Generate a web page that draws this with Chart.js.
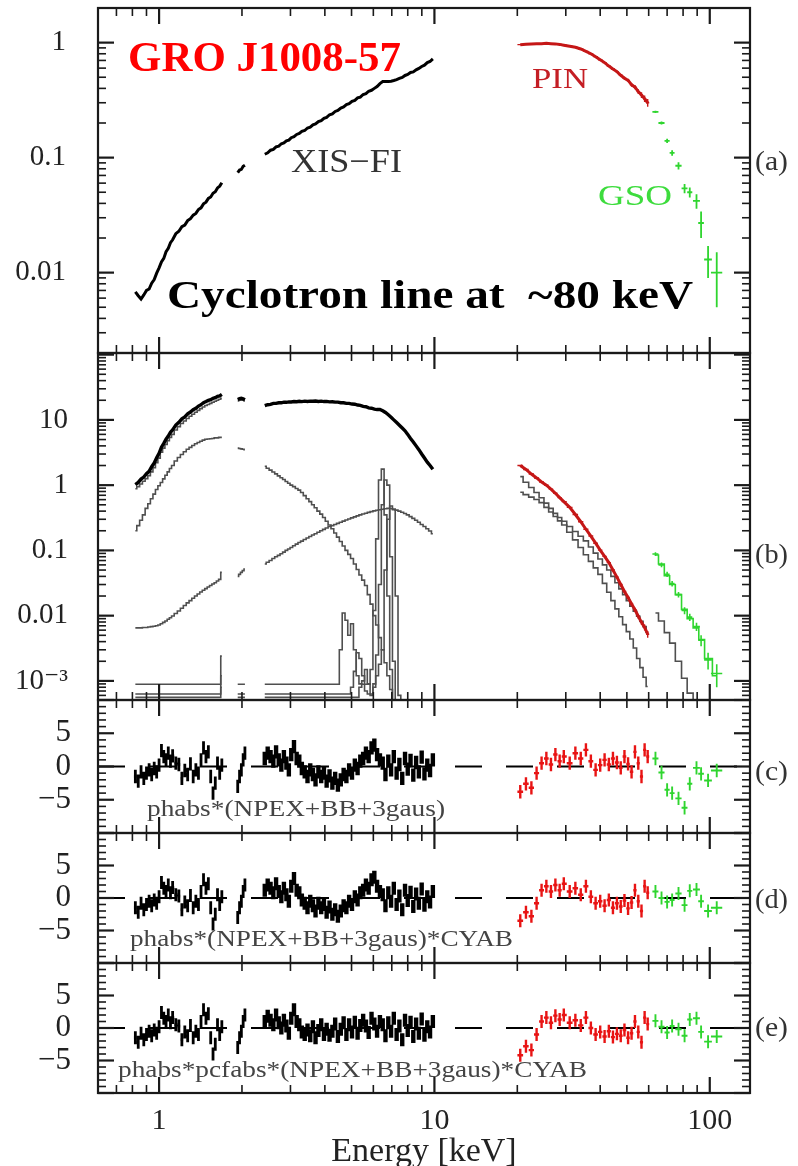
<!DOCTYPE html>
<html lang="en">
<head>
<meta charset="UTF-8" />
<title>GRO J1008-57 broadband spectrum</title>
<script src="https://cdn.jsdelivr.net/npm/chart.js"></script>
<style>
  html, body { margin: 0; padding: 0; background: #fff; }
  #wrap { position: relative; width: 798px; height: 1166px; }
  #wrap canvas { position: absolute; left: 0; top: 0; }
</style>
</head>
<body>
<div id="wrap">
  <canvas id="pa" width="798" height="1166"></canvas>
  <canvas id="pb" width="798" height="1166"></canvas>
  <canvas id="pc" width="798" height="1166"></canvas>
  <canvas id="pd" width="798" height="1166"></canvas>
  <canvas id="pe" width="798" height="1166"></canvas>
</div>
<script>
// ---- data (energies in keV) ----
// XIS grid; 1.80 and 2.25 are gap markers (null values)
const xisE = [0.82,0.84,0.86,0.88,0.90,0.92,0.94,0.96,0.98,1.00,1.02,1.04,1.06,1.08,1.10,1.12,
  1.15,1.18,1.21,1.24,1.27,1.30,1.33,1.36,1.39,1.42,1.45,1.48,1.51,1.54,1.57,1.60,1.63,1.66,1.69,
  1.80,
  1.93,1.96,1.99,2.02,2.05,
  2.25,
  2.42,2.48,2.54,2.60,2.66,2.72,2.78,2.84,2.90,2.96,
  3.02,3.09,3.16,3.23,3.30,3.38,3.46,3.54,3.62,3.70,
  3.79,3.88,3.97,4.06,4.16,4.26,4.36,4.46,4.57,4.68,
  4.79,4.90,5.02,5.14,5.26,5.38,5.51,5.64,5.77,5.91,
  6.05,6.19,6.34,6.49,6.64,6.80,6.96,7.12,7.29,7.46,
  7.64,7.82,8.00,8.19,8.38,8.58,8.78,8.99,9.20,9.42,
  9.64,9.87];

// panel (a) normalised XIS-FI
const xisA = [0.0068,0.0063,0.0059,0.0064,0.0070,0.0072,0.0081,0.0087,0.0099,0.0110,0.0124,0.0133,0.0152,0.0163,0.0182,0.0193,
  0.0218,0.0229,0.0251,0.0259,0.0283,0.0295,0.0316,0.0327,0.0354,0.0366,0.0396,0.0410,0.0442,0.0455,0.0490,0.0505,0.0545,0.0565,0.0605,
  null,
  0.074,0.078,0.079,0.084,0.086,
  null,
  0.107,0.110,0.116,0.118,0.124,0.126,0.132,0.134,0.140,0.142,
  0.149,0.152,0.159,0.162,0.169,0.172,0.181,0.184,0.193,0.196,
  0.206,0.210,0.220,0.224,0.236,0.240,0.252,0.257,0.270,0.276,
  0.289,0.294,0.309,0.315,0.331,0.336,0.354,0.360,0.378,0.385,
  0.400,0.415,0.440,0.458,0.458,0.460,0.462,0.468,0.476,0.488,
  0.498,0.518,0.528,0.550,0.556,0.580,0.596,0.620,0.636,0.670,
  0.685,0.722];

// panel (b) XIS-FI data and model components
const xisB = [1.02,1.10,1.24,1.33,1.50,1.63,1.92,2.18,2.63,3.08,3.82,4.36,5.05,5.65,6.45,7.05,
  8.35,9.2,10.4,11.1,12.4,13.2,14.3,15.1,16.3,17.1,18.4,19.1,19.9,20.4,21.4,21.9,22.9,23.4,24.6,
  null,
  20.5,21.1,21.4,21.1,20.4,
  null,
  16.5,17.1,17.3,17.9,17.9,18.3,18.3,18.7,18.6,18.9,
  18.8,19.1,19.0,19.3,19.1,19.4,19.2,19.4,19.3,19.5,
  19.2,19.4,19.1,19.2,18.9,19.0,18.7,18.7,18.3,18.3,
  17.9,17.9,17.5,17.4,16.9,16.7,16.1,15.9,15.3,15.1,
  14.6,14.4,14.5,13.8,13.0,12.0,11.0,10.0,9.1,8.3,
  7.5,6.8,6.0,5.2,4.6,4.0,3.5,3.0,2.6,2.25,
  2.0,1.75];
const modB = [0.88,0.95,1.04,1.15,1.26,1.40,1.60,1.85,2.2,2.6,3.2,3.7,4.2,4.8,5.4,6.0,
  7.0,7.9,8.8,9.6,10.5,11.4,12.2,13.1,14.0,14.9,15.8,16.6,17.2,17.9,18.6,19.3,20.0,20.7,21.5,
  null,
  19.5,20.0,20.4,20.0,19.5];
const npexB = [0.20,0.24,0.29,0.35,0.44,0.52,0.62,0.73,0.86,0.98,1.10,1.25,1.42,1.60,1.80,2.00,
  2.35,2.65,2.95,3.25,3.55,3.80,4.05,4.30,4.50,4.70,4.90,5.05,5.10,5.15,5.20,5.30,5.30,5.40,5.40,
  null,
  3.70,3.65,3.60,3.55,3.50,
  null,
  1.95,1.82,1.70,1.59,1.49,1.39,1.30,1.22,1.14,1.07,
  1.00,0.95,0.89,0.84,0.77,0.69,0.62,0.56,0.50,0.45,
  0.40,0.36,0.32,0.28,0.245,0.215,0.185,0.16,0.137,0.117,
  0.10,0.087,0.075,0.062,0.051,0.042,0.035,0.029,0.021,0.015,
  0.010,0.0072,0.0046,0.0030,0.0019,0.0012,0.00074,0.00045,0.00028];
const bbB = [0.0065,0.0065,0.0065,0.0066,0.0066,0.0067,0.0068,0.0069,0.0070,0.0072,0.0075,0.0079,0.0083,0.0088,0.0093,0.0099,
  0.0108,0.0118,0.013,0.0143,0.0157,0.017,0.0185,0.020,0.0215,0.023,0.0245,0.026,0.0275,0.029,0.0305,0.032,0.034,0.036,0.046,
  null,
  0.040,0.043,0.046,0.049,0.052,
  null,
  0.062,0.066,0.070,0.075,0.080,0.084,0.089,0.094,0.100,0.105,
  0.111,0.118,0.125,0.132,0.139,0.147,0.155,0.163,0.172,0.180,
  0.190,0.200,0.210,0.221,0.232,0.240,0.250,0.260,0.270,0.281,
  0.292,0.303,0.315,0.327,0.338,0.350,0.362,0.372,0.383,0.393,
  0.403,0.412,0.420,0.428,0.434,0.440,0.438,0.430,0.415,0.400,
  0.385,0.368,0.350,0.330,0.310,0.290,0.270,0.250,0.233,0.215,
  0.198,0.180];

// three gaussian (iron line) components, coarser grid
const gausE = [0.82,1.66,1.69,1.80,1.93,2.05,2.25,2.42,4.46,4.57,4.68,4.79,4.90,5.02,5.14,5.26,
  5.38,5.51,5.64,5.77,5.91,6.05,6.19,6.34,6.49,6.64,6.80,6.96,7.12,7.29,7.46,7.64];
const g1B = [0.00089,0.00089,0.0024,null,0.00089,0.00089,null,0.00089,0.00089,0.003,0.011,0.0085,0.005,0.0075,0.003,0.0012,
  0.0009,0.00089,0.00089,0.00089,0.0015,0.012,0.15,1.2,1.76,0.35,0.02,0.0015,0.0003];
const g2B = [0.00063,0.00063,0.0012,null,0.00063,0.00063,null,0.00063,0.00063,0.00063,0.00063,0.00063,0.00063,0.0008,0.0014,0.0027,
  0.0022,0.0012,0.0007,0.00063,0.00063,0.0009,0.0025,0.03,0.5,1.2,1.0,0.08,0.002,0.0003];
const g3B = [0.00056,0.00056,0.0008,null,0.00056,0.00056,null,0.00056,0.00056,0.00056,0.00056,0.00056,0.00056,0.00056,0.00056,0.00056,
  0.0008,0.001,0.0015,0.0009,0.0006,0.0008,0.0012,0.0018,0.003,0.05,0.3,0.48,0.42,0.02,0.0006,0.0003];

// HXD-PIN
const pinE = [20.5,21.5,22.5,23.5,24.5,25.5,26.5,27.5,28.5,29.5,31,32.5,34,35.5,37,38.5,40,41.5,43,44.5,
  46,47.5,49,50.5,52,53.5,55,56.5,58,59.5];
const pinA = [0.96,0.97,0.975,0.98,0.98,0.985,0.98,0.975,0.965,0.95,0.93,0.91,0.88,0.84,0.80,0.755,0.71,0.67,0.625,0.59,
  0.56,0.52,0.49,0.47,0.43,0.41,0.375,0.35,0.325,0.30];
const pinAErr = [0.004,0.004,0.004,0.004,0.004,0.005,0.005,0.005,0.005,0.006,0.006,0.006,0.007,0.007,0.008,0.008,0.009,0.01,0.01,0.011,
  0.012,0.013,0.014,0.015,0.016,0.017,0.018,0.02,0.021,0.023];
const pinB = [2.0,1.74,1.48,1.29,1.12,1.0,0.87,0.75,0.645,0.56,0.457,0.355,0.275,0.211,0.166,0.129,0.101,0.081,0.065,0.050,
  0.039,0.030,0.0234,0.019,0.0151,0.0123,0.0098,0.0079,0.0066,0.0052];
const pinBErr = [0.05,0.04,0.035,0.03,0.03,0.025,0.02,0.02,0.018,0.016,0.013,0.011,0.009,0.007,0.006,0.005,0.004,0.0035,0.003,0.0025,
  0.002,0.0017,0.0014,0.0012,0.001,0.0009,0.0008,0.0007,0.0007,0.0006];
const pinUB = [1.35,1.11,0.92,0.77,0.64,0.53,0.44,0.37,0.32,0.28,0.233,0.195,0.165,0.140,0.113,0.091,0.074,0.060,0.050,0.040,
  0.032,0.0257,0.0209,0.0170,0.0140,0.0117,0.0098,0.0082,0.0068,0.0056];
const pinLB = [0.78,0.715,0.655,0.603,0.54,0.456,0.388,0.331,0.284,0.245,0.19,0.145,0.111,0.086,0.068,0.054,0.043,0.0312,0.0229,0.017,
  0.0127,0.0096,0.0073,0.0057,0.0044,0.0032,0.0022,0.0016,0.00114,0.00082];

// HXD-GSO
const gsoE = [63.5,66.8,70,73,77,81,84.6,89.5,93,98.6,106];
const gsoXErr = [1.6,1.7,1.5,1.5,2.0,2.0,1.8,2.6,2.2,3.2,5.0];
const gsoA = [0.25,0.20,0.14,0.11,0.085,0.054,0.05,0.042,0.027,0.013,0.010];
const gsoAErr = [0.006,0.006,0.006,0.006,0.006,0.005,0.005,0.006,0.007,0.004,0.005];
const gsoB = [0.088,0.060,0.043,0.031,0.021,0.012,0.0095,0.0068,0.0042,0.0021,0.0013];
const gsoBErr = [0.006,0.005,0.004,0.003,0.002,0.0015,0.0012,0.001,0.0008,0.0006,0.0005];
const gsoModB = [0.085,0.062,0.041,0.030,0.021,0.0125,0.009,0.0065,0.0043,0.0022,0.0012];
const gsoCompB = [0.011,0.0083,0.0055,0.0038,0.0020,0.0011,0.00065,0.0004];

// residuals (sigma)
const xisResCD = [-1.5,-2.2,-0.8,-1.8,-1.0,-0.5,-1.2,-0.3,-0.8,0.2,2.4,1.5,1.0,2.0,0.8,1.6,
  0.5,0.3,-1.8,-0.6,-1.2,0.4,-1.5,-0.5,-1.0,1.0,2.8,1.5,2.2,-1.5,-4.0,-2.5,0.5,-1.0,0.2,
  null,
  -3.0,-1.5,-0.5,1.0,2.0,
  null,
  1.2,2.0,1.5,0.8,2.2,1.0,0.2,1.5,0.5,-0.5,
  1.8,3.0,1.2,0.8,-0.3,-0.8,-1.5,-0.5,-1.2,-2.0,
  -0.8,-1.5,-1.0,-2.2,-1.4,-2.5,-1.8,-2.8,-2.0,-1.2,
  -1.5,-0.5,-1.0,0.2,-0.3,0.8,1.2,2.0,1.5,2.8,
  3.2,1.8,1.0,0.5,-1.2,0.8,-0.5,1.5,-1.0,0.3,
  -1.8,1.2,-0.4,0.9,-1.3,0.6,-0.8,1.4,-1.1,0.2,
  -0.6,1.0];
const xisResE = [-1.5,-2.2,-0.8,-1.8,-1.0,-0.5,-1.2,-0.3,-0.8,0.2,2.4,1.5,1.0,2.0,0.8,1.6,
  0.5,0.3,-1.8,-0.6,-1.2,0.4,-1.5,-0.5,-1.0,1.0,2.8,1.5,2.2,-1.5,-4.0,-2.5,0.5,-1.0,0.2,
  null,
  -3.0,-1.5,-0.5,1.0,2.0,
  null,
  1.0,1.8,1.2,0.5,2.0,0.8,0.0,1.2,0.3,-0.8,
  1.5,2.8,1.0,0.5,-0.6,-1.0,-0.3,-1.2,0.2,-1.5,
  -0.4,0.5,-1.0,-0.2,-1.1,-0.5,0.6,-1.3,-0.2,0.8,
  -1.0,0.5,-0.6,0.9,-0.8,0.4,1.2,0.3,-0.7,1.5,
  0.6,-0.5,1.0,0.5,-1.2,0.8,-0.5,1.5,-1.0,0.3,
  -1.8,1.2,-0.4,0.9,-1.3,0.6,-0.8,1.4,-1.1,0.2,
  -0.6,1.0];
const pinResC = [-3.8,-2.6,-3.2,-1.0,0.5,1.2,0.3,1.8,0.8,1.5,0.5,2.0,1.2,2.5,0.8,-0.5,0.2,1.0,0.3,1.2,
  0.6,-0.2,1.5,0.4,-0.8,2.2,0.5,-1.5,2.5,1.5];
const pinResD = [-3.5,-2.2,-2.8,-0.8,1.2,1.8,1.0,2.0,1.2,2.2,1.0,1.5,0.5,1.8,0.2,-0.8,-0.5,-1.2,-0.3,-1.5,
  -0.8,-1.3,-0.4,-1.6,-0.7,1.2,-0.5,-2.0,1.8,0.8];
const pinResE = [-4.2,-2.8,-3.4,-1.0,1.0,1.6,0.8,1.9,1.3,2.0,0.8,1.2,0.4,1.6,0.0,-1.0,-0.6,-1.3,-0.5,-1.4,
  -0.9,-1.2,-0.3,-1.5,-0.8,1.0,-0.6,-2.2,1.6,0.6];
const gsoResC = [1.2,-0.9,-3.5,-4.0,-4.8,-6.2,-2.6,-0.2,-1.1,-2.1,-0.6];
const gsoResD = [1.0,0.0,-0.6,-0.3,0.7,-1.1,1.1,1.3,-0.5,-2.0,-1.5];
const gsoResE = [1.1,0.2,-0.7,0.3,-0.2,-1.2,1.3,1.5,-0.6,-2.1,-1.3];
const residSigma = 1;
const zeroE = [0.6, 140];
const zeroV = [0, 0];

// tick labels
const xTickVals = [1, 10, 100];
const xTickLabels = ['1', '10', '100'];
const yTickValsA = [0.01, 0.1, 1];
const yTickLabelsA = ['0.01', '0.1', '1'];
const yTickValsB = [0.001, 0.01, 0.1, 1, 10];
const yTickLabelsB = ['10\u207B\u00B3', '0.01', '0.1', '1', '10'];
const yTickValsR = [-5, 0, 5];
const yTickLabelsR = ['\u22125', '0', '5'];

// ---- drawing ----
const SERIF = '"Liberation Serif", "DejaVu Serif", serif';
Chart.defaults.font.family = SERIF;
Chart.defaults.color = '#222';

const BLACK = '#000000';
const GRAY = '#4f4f4f';
const RED = '#e81414';
const RED_D = '#c51717';
const GREEN = '#2fd52f';
const XIS_SPLIT = 42; // first index of the 2.4-10 keV XIS segment

function pts(xs, ys) { return ys.map((y, i) => ({x: xs[i], y: y})); }

function fitText(ctx, t) {
  ctx.save();
  ctx.font = t.font;
  ctx.fillStyle = t.color;
  ctx.textAlign = 'left';
  ctx.textBaseline = 'alphabetic';
  const w = ctx.measureText(t.text).width;
  ctx.translate(t.x, t.y);
  ctx.scale(t.w / w, 1);
  ctx.fillText(t.text, 0, 0);
  ctx.restore();
}

// cross-shaped error bars for datasets that carry errY
function drawErrors(chart) {
  const {ctx, chartArea: a, scales: {x, y}} = chart;
  ctx.save();
  ctx.beginPath();
  ctx.rect(a.left, a.top, a.right - a.left, a.bottom - a.top);
  ctx.clip();
  chart.data.datasets.forEach(ds => {
    if (ds.errY === undefined) return;
    const d = ds.data;
    ctx.strokeStyle = ds.borderColor;
    ctx.lineWidth = ds.errWidth || 1.5;
    ctx.beginPath();
    d.forEach((p, i) => {
      if (p.y === null) return;
      const ey = Array.isArray(ds.errY) ? ds.errY[i] : ds.errY;
      const px = x.getPixelForValue(p.x);
      const py = y.getPixelForValue(p.y);
      let xl, xr;
      if (ds.errX) {
        xl = x.getPixelForValue(p.x - ds.errX[i]);
        xr = x.getPixelForValue(p.x + ds.errX[i]);
      } else {
        const pv = d[i - 1], nx = d[i + 1];
        const pp = pv && pv.y !== null ? x.getPixelForValue(pv.x) : null;
        const np = nx && nx.y !== null ? x.getPixelForValue(nx.x) : null;
        const hl = pp !== null ? (px - pp) / 2 : (np !== null ? (np - px) / 2 : 2);
        const hr = np !== null ? (np - px) / 2 : hl;
        xl = px - hl; xr = px + hr;
      }
      let lo = p.y - ey;
      if (y.type === 'logarithmic' && lo <= 0) lo = y.min;
      ctx.moveTo(xl, py); ctx.lineTo(xr, py);
      ctx.moveTo(px, y.getPixelForValue(lo)); ctx.lineTo(px, y.getPixelForValue(p.y + ey));
    });
    ctx.stroke();
  });
  ctx.restore();
}

// frame with inward ticks on all four sides
function drawFrame(chart) {
  const {ctx, chartArea: a, scales: {x, y}} = chart;
  ctx.save();
  ctx.strokeStyle = '#1a1a1a';
  const tick = (x1, y1, x2, y2, w) => {
    ctx.lineWidth = w; ctx.beginPath(); ctx.moveTo(x1, y1); ctx.lineTo(x2, y2); ctx.stroke();
  };
  for (let d = -1; d <= 2; d++) {
    for (let k = 1; k <= 9; k++) {
      const v = k * Math.pow(10, d);
      if (v < x.min || v > x.max) continue;
      const px = x.getPixelForValue(v);
      const len = k === 1 ? 16 : 8, w = k === 1 ? 2.2 : 1.6;
      tick(px, a.top, px, a.top + len, w);
      tick(px, a.bottom, px, a.bottom - len, w);
    }
  }
  const yt = [];
  if (y.type === 'logarithmic') {
    for (let d = Math.floor(Math.log10(y.min)); d <= Math.ceil(Math.log10(y.max)); d++) {
      for (let k = 1; k <= 9; k++) {
        const v = k * Math.pow(10, d);
        if (v >= y.min && v <= y.max) yt.push([v, k === 1]);
      }
    }
  } else {
    for (let v = Math.ceil(y.min); v <= y.max; v++) yt.push([v, v % 5 === 0]);
  }
  yt.forEach(([v, major]) => {
    const py = y.getPixelForValue(v);
    const len = major ? 16 : 8, w = major ? 2.2 : 1.6;
    tick(a.left, py, a.left + len, py, w);
    tick(a.right, py, a.right - len, py, w);
  });
  ctx.lineWidth = 2.2;
  ctx.strokeRect(a.left, a.top, a.right - a.left, a.bottom - a.top);
  ctx.restore();
}

function xAxis(show) {
  return {
    type: 'logarithmic', min: 0.6, max: 140, display: show,
    grid: {display: false}, border: {display: false},
    afterBuildTicks: s => { s.ticks = xTickVals.map(v => ({value: v})); },
    afterFit: s => { s.paddingLeft = 0; s.paddingRight = 0; s.height = show ? 73 : 0; },
    ticks: {padding: 2, font: {size: 30}, color: '#222', maxRotation: 0, autoSkip: false,
      callback: (v, i) => xTickLabels[i]},
    title: {display: show, text: 'Energy [keV]', font: {size: 34, lineHeight: 0.8}, color: '#222', padding: 0}
  };
}

function yAxis(type, min, max, vals, labels, size, pad) {
  return {
    type, min, max,
    grid: {display: false}, border: {display: false},
    afterBuildTicks: s => { s.ticks = vals.map(v => ({value: v})); },
    afterFit: s => { s.width = 98; s.paddingTop = 0; s.paddingBottom = 0; },
    ticks: {padding: pad, font: {size: size}, color: '#222', autoSkip: false,
      callback: (v, i) => labels[i]}
  };
}

function makeChart(id, p) {
  const plug = {
    id: 'panel_' + id,
    afterDatasetsDraw(chart) { drawErrors(chart); },
    afterDraw(chart) { drawFrame(chart); p.texts.forEach(t => fitText(chart.ctx, t)); }
  };
  return new Chart(document.getElementById(id), {
    type: 'line',
    data: {datasets: p.datasets},
    options: {
      responsive: false, animation: false, events: [],
      layout: {padding: {top: p.top, bottom: p.bottom, left: 0, right: 48}},
      datasets: {line: {pointRadius: 0, pointHoverRadius: 0, borderWidth: 1.6, fill: false, spanGaps: false}},
      plugins: {legend: {display: false}, tooltip: {enabled: false}},
      scales: {x: xAxis(p.showX), y: p.y}
    },
    plugins: [plug]
  });
}

function panelLabel(txt, y) {
  return {text: txt, x: 755, y: y, w: 33, font: '28px ' + SERIF, color: '#333'};
}

// (a)
makeChart('pa', {
  top: 8, bottom: 1166 - 353, showX: false,
  y: yAxis('logarithmic', 0.002, 2.0, yTickValsA, yTickLabelsA, 29, 24),
  datasets: [
    {data: pts(gsoE, gsoA), borderColor: GREEN, showLine: false, errY: gsoAErr, errX: gsoXErr, errWidth: 1.8},
    {data: pts(pinE, pinA), borderColor: RED_D, borderWidth: 3, errY: pinAErr, errWidth: 1.4},
    {data: pts(xisE, xisA), borderColor: BLACK, borderWidth: 3}
  ],
  texts: [
    {text: 'GRO J1008-57', x: 128, y: 71, w: 273, font: 'bold 42px ' + SERIF, color: '#ff0000'},
    {text: 'XIS\u2212FI', x: 291, y: 172, w: 111, font: '33px ' + SERIF, color: '#333'},
    {text: 'PIN', x: 532, y: 88, w: 56, font: '30px ' + SERIF, color: '#c41e24'},
    {text: 'GSO', x: 598, y: 205, w: 74, font: '30px ' + SERIF, color: '#3ddc3d'},
    {text: 'Cyclotron line at  ~80 keV', x: 167, y: 308, w: 526, font: 'bold 40px ' + SERIF, color: '#000'},
    panelLabel('(a)', 170)
  ]
});

// (b)
makeChart('pb', {
  top: 353, bottom: 1166 - 700, showX: false,
  y: yAxis('logarithmic', 0.00051, 106, yTickValsB, yTickLabelsB, 29, 22),
  datasets: [
    {data: pts(gsoE, gsoB), borderColor: GREEN, showLine: false, errY: gsoBErr, errX: gsoXErr, errWidth: 1.6},
    {data: pts(gsoE, gsoModB), borderColor: GREEN, stepped: 'middle'},
    {data: pts(pinE, pinB), borderColor: RED_D, borderWidth: 3, errY: pinBErr, errWidth: 1.4},
    {data: pts(xisE, xisB), borderColor: BLACK, borderWidth: 3.4},
    {data: pts(xisE, modB), borderColor: GRAY, stepped: 'middle'},
    {data: pts(xisE, npexB), borderColor: GRAY, stepped: 'middle'},
    {data: pts(xisE, bbB), borderColor: GRAY, stepped: 'middle'},
    {data: pts(gausE, g1B), borderColor: GRAY, stepped: 'middle'},
    {data: pts(gausE, g2B), borderColor: GRAY, stepped: 'middle'},
    {data: pts(gausE, g3B), borderColor: GRAY, stepped: 'middle'},
    {data: pts(pinE, pinUB), borderColor: GRAY, stepped: 'middle'},
    {data: pts(pinE, pinLB), borderColor: GRAY, stepped: 'middle'},
    {data: pts(gsoE, gsoCompB), borderColor: GRAY, stepped: 'middle'}
  ],
  texts: [panelLabel('(b)', 563)]
});

function residPanel(id, top, bottom, showX, xisR, pinR, gsoR, label, labelY, model, modelX, modelY, modelW) {
  makeChart(id, {
    top: top, bottom: bottom, showX: showX,
    y: yAxis('linear', -10, 10, yTickValsR, yTickLabelsR, 31, 19),
    datasets: [
      {data: pts(gsoE, gsoR), borderColor: GREEN, showLine: false, errY: residSigma, errX: gsoXErr, errWidth: 1.9},
      {data: pts(pinE, pinR), borderColor: RED, showLine: false, errY: residSigma, errWidth: 2.4},
      {data: pts(xisE.slice(0, XIS_SPLIT), xisR.slice(0, XIS_SPLIT)), borderColor: BLACK, showLine: false,
        errY: residSigma, errWidth: 2.8},
      {data: pts(xisE.slice(XIS_SPLIT), xisR.slice(XIS_SPLIT)), borderColor: BLACK, showLine: false,
        errY: residSigma, errWidth: 4.4},
      {data: pts(zeroE, zeroV), borderColor: BLACK, borderWidth: 1.8, borderDash: [27, 24]}
    ],
    texts: [
      {text: model, x: modelX, y: modelY, w: modelW, font: '24px ' + SERIF, color: '#444'},
      panelLabel(label, labelY)
    ]
  });
}

residPanel('pc', 700, 1166 - 833, false, xisResCD, pinResC, gsoResC, '(c)', 780,
  'phabs*(NPEX+BB+3gaus)', 147, 816, 298);
residPanel('pd', 833, 1166 - 963, false, xisResCD, pinResD, gsoResD, '(d)', 908,
  'phabs*(NPEX+BB+3gaus)*CYAB', 130, 946, 383);
residPanel('pe', 963, 0, true, xisResE, pinResE, gsoResE, '(e)', 1036,
  'phabs*pcfabs*(NPEX+BB+3gaus)*CYAB', 118, 1077, 469);
</script>
</body>
</html>
